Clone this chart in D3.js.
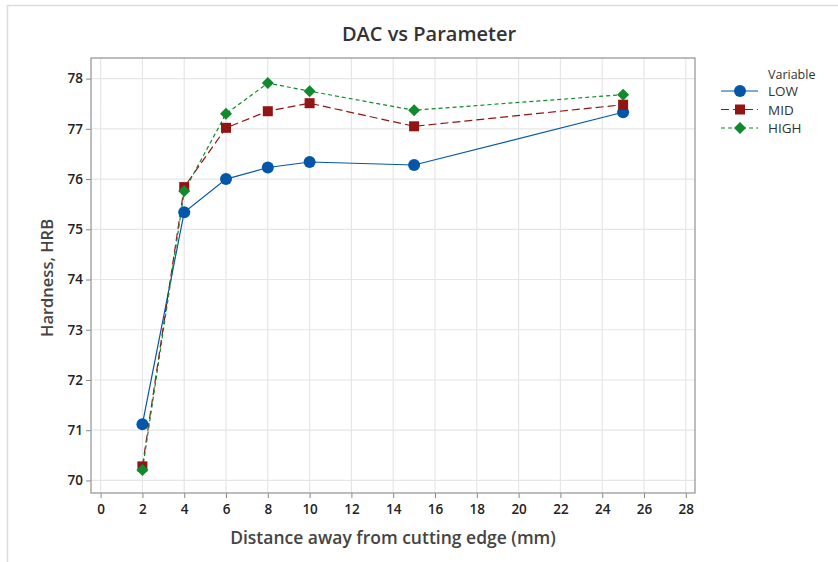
<!DOCTYPE html>
<meta charset="utf-8">
<head>
  <title>DAC vs Parameter</title>
</head>
<style>
  body { margin: 0; background: #fff; }
  text { font-family: "Open Sans", "Noto Sans", sans-serif; }
</style>
<body>
  <div id="chart"></div>
  <script src="https://d3js.org/d3.v7.min.js"></script>
  <script>

  // data
  var distances = [2, 4, 6, 8, 10, 15, 25];
  var lowVals  = [71.12, 75.34, 76.0, 76.23, 76.34, 76.28, 77.33];
  var midVals  = [70.28, 75.84, 77.02, 77.35, 77.51, 77.05, 77.48];
  var highVals = [70.21, 75.76, 77.30, 77.91, 77.75, 77.37, 77.68];
  var seriesNames = ["LOW", "MID", "HIGH"];
  var xTicks = d3.range(0, 29, 2);
  var yTicks = [70, 71, 72, 73, 74, 75, 76, 77, 78];

  var W = 838, H = 562;
  var margin = {top: 58, left: 91, right: 143, bottom: 69};
  var width = W - margin.left - margin.right,
      height = H - margin.top - margin.bottom;

  var svg = d3.select("#chart").append("svg")
      .attr("width", W).attr("height", H);

  // outer frame of the graph window
  svg.append("path")
      .attr("d", "M7.5," + H + "V5.5H" + W)
      .attr("fill", "none").attr("stroke", "#dcdcdc").attr("stroke-width", 1.5);

  var g = svg.append("g")
      .attr("transform", "translate(" + margin.left + "," + margin.top + ")");

  var x = d3.scaleLinear().domain([-0.46, 28.44]).range([0, width]);
  var y = d3.scaleLinear().domain([69.75, 78.41]).range([height, 0]);

  // grid
  g.append("g").selectAll("line").data(xTicks).enter().append("line")
      .attr("x1", function(d) { return x(d); }).attr("x2", function(d) { return x(d); })
      .attr("y1", 0).attr("y2", height)
      .attr("stroke", "#e6e6e6").attr("stroke-width", 1.2);
  g.append("g").selectAll("line").data(yTicks).enter().append("line")
      .attr("y1", function(d) { return y(d); }).attr("y2", function(d) { return y(d); })
      .attr("x1", 0).attr("x2", width)
      .attr("stroke", "#e6e6e6").attr("stroke-width", 1.2);

  // axes
  var xAxis = g.append("g")
      .attr("transform", "translate(0," + height + ")")
      .call(d3.axisBottom(x).tickValues(xTicks).tickSize(5).tickSizeOuter(0).tickPadding(6));
  var yAxis = g.append("g")
      .call(d3.axisLeft(y).tickValues(yTicks).tickSize(5).tickSizeOuter(0).tickPadding(3));
  [xAxis, yAxis].forEach(function(a) {
    a.select(".domain").remove();
    a.selectAll("line").attr("stroke", "#888");
    a.selectAll("text").attr("fill", "#222").style("font-size", "13.5px")
      .style("font-weight", "600").style("font-family", "'Open Sans', sans-serif");
  });

  // plot frame
  g.append("rect")
      .attr("width", width).attr("height", height)
      .attr("fill", "none").attr("stroke", "#9a9a9a").attr("stroke-width", 1.3);

  var colors = {LOW: "#0457a8", MID: "#921414", HIGH: "#11892d"};
  var dashes = {LOW: null, MID: "8,4", HIGH: "4,3"};
  var seriesData = {LOW: lowVals, MID: midVals, HIGH: highVals};

  var line = d3.line()
      .x(function(d) { return x(d[0]); })
      .y(function(d) { return y(d[1]); });

  function drawMarker(sel, name, cx, cy) {
    if (name === "LOW") {
      sel.append("circle").attr("cx", cx).attr("cy", cy).attr("r", 6)
        .attr("fill", colors.LOW);
    } else if (name === "MID") {
      sel.append("rect").attr("x", cx - 5).attr("y", cy - 5)
        .attr("width", 10).attr("height", 10).attr("fill", colors.MID);
    } else {
      sel.append("path")
        .attr("d", "M" + cx + "," + (cy - 6) + "L" + (cx + 6) + "," + cy +
                   "L" + cx + "," + (cy + 6) + "L" + (cx - 6) + "," + cy + "Z")
        .attr("fill", colors.HIGH);
    }
  }

  seriesNames.forEach(function(name) {
    var pts = distances.map(function(d, i) { return [d, seriesData[name][i]]; });
    g.append("path").datum(pts)
      .attr("d", line)
      .attr("fill", "none")
      .attr("stroke", colors[name])
      .attr("stroke-width", 1.2)
      .attr("stroke-dasharray", dashes[name]);
  });
  seriesNames.forEach(function(name) {
    var mg = g.append("g");
    distances.forEach(function(d, i) {
      drawMarker(mg, name, x(d), y(seriesData[name][i]));
    });
  });

  // title
  svg.append("text")
      .attr("x", 429).attr("y", 41)
      .attr("text-anchor", "middle")
      .attr("fill", "#333")
      .style("font-size", "20px").style("font-weight", "600")
      .text("DAC vs Parameter");

  // axis titles
  svg.append("text")
      .attr("x", 393).attr("y", 544)
      .attr("text-anchor", "middle")
      .attr("fill", "#444")
      .style("font-size", "17.5px").style("font-weight", "600")
      .text("Distance away from cutting edge (mm)");
  svg.append("text")
      .attr("transform", "translate(53,278) rotate(-90)")
      .attr("text-anchor", "middle")
      .attr("fill", "#444")
      .style("font-size", "16.5px").style("font-weight", "600")
      .text("Hardness, HRB");

  // legend
  var lg = svg.append("g").attr("transform", "translate(721,0)");
  lg.append("text").attr("x", 47).attr("y", 79)
      .attr("fill", "#333").style("font-size", "12.5px").text("Variable");
  seriesNames.forEach(function(name, i) {
    var ly = 91 + i * 18.5;
    lg.append("line").attr("x1", 0).attr("x2", 37).attr("y1", ly).attr("y2", ly)
      .attr("stroke", colors[name]).attr("stroke-width", 1.2)
      .attr("stroke-dasharray", dashes[name]);
    drawMarker(lg, name, 19, ly);
    lg.append("text").attr("x", 47).attr("y", ly + 5)
      .attr("fill", "#333").style("font-size", "13.5px").text(name);
  });

  </script>
</body>
</html>
